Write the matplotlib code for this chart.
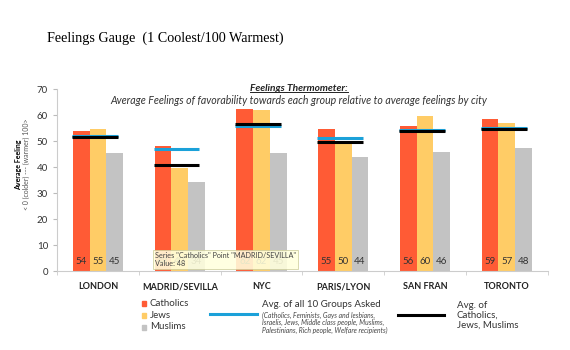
import numpy as np
import matplotlib
matplotlib.use('Agg')
import matplotlib.pyplot as plt
from matplotlib.lines import Line2D
from matplotlib.patches import Rectangle

# data
cities = ['LONDON', 'MADRID/SEVILLA', 'NYC', 'PARIS/LYON', 'SAN FRAN', 'TORONTO']
catholics = [54.0, 48.0, 62.2, 54.8, 55.9, 58.6]
jews = [54.7, 39.6, 62.0, 50.0, 59.8, 57.0]
muslims = [45.2, 34.3, 45.4, 43.8, 45.8, 47.5]
catholics_lbl = [54, 48, 62, 55, 56, 59]
jews_lbl = [55, 40, 62, 50, 60, 57]
muslims_lbl = [45, 34, 45, 44, 46, 48]
avg_all10 = [51.8, 46.8, 55.9, 51.2, 54.1, 54.9]
avg_cjm = [51.5, 40.8, 56.4, 49.7, 54.0, 54.7]
yticks = [0, 10, 20, 30, 40, 50, 60, 70]

c_cath = '#FF5B35'
c_jew = '#FFCC66'
c_mus = '#C3C3C3'
c_blue = '#1BA1D9'
sans = ['Lato', 'DejaVu Sans']

fig = plt.figure(figsize=(5.7, 3.5), dpi=100)
ax = fig.add_axes([0.1, 0.2257, 0.861, 0.52])

x = np.arange(len(cities))
w = 0.205
ax.bar(x - w, catholics, w, color=c_cath, zorder=2)
ax.bar(x, jews, w, color=c_jew, zorder=2)
ax.bar(x + w, muslims, w, color=c_mus, zorder=2)

for i in range(len(cities)):
    ax.plot([x[i] - 0.32, x[i] + 0.24], [avg_all10[i]] * 2, color=c_blue, lw=2.2, zorder=3,
            solid_capstyle='butt')
    ax.plot([x[i] - 0.32, x[i] + 0.24], [avg_cjm[i]] * 2, color='black', lw=2.2, zorder=4,
            solid_capstyle='butt')
    for off, v in zip([-w, 0, w], [catholics_lbl[i], jews_lbl[i], muslims_lbl[i]]):
        ax.text(x[i] + off, 3.5, str(v), ha='center', va='center', fontsize=7,
                color='#333333', family=sans, zorder=5)

ax.set_xlim(-0.5, 5.5)
ax.set_ylim(0, 70)
ax.set_yticks(yticks)
ax.set_xticks(x)
ax.set_xticklabels(cities, fontsize=6.5, fontweight='bold', family=sans, color='#222222')
ax.set_xticks(np.arange(-0.5, 6, 1), minor=True)
ax.tick_params(axis='x', which='major', length=0, pad=8)
ax.tick_params(axis='x', which='minor', length=3, color='#CCCCCC', direction='out')
ax.tick_params(axis='y', length=3, color='#BBBBBB', labelsize=7, labelcolor='#333333')
for lab in ax.get_yticklabels():
    lab.set_family(sans)
for s in ['top', 'right']:
    ax.spines[s].set_visible(False)
ax.spines['left'].set_color('#CCCCCC')
ax.spines['bottom'].set_color('#CCCCCC')

# titles
fig.text(0.082, 0.89, 'Feelings Gauge  (1 Coolest/100 Warmest)', fontsize=10.2,
         family=['Liberation Serif', 'DejaVu Serif'], ha='left', va='center')
t = fig.text(0.525, 0.748, 'Feelings Thermometer:', fontsize=7.3, fontweight='bold',
             fontstyle='italic', family=sans, ha='center', va='center', color='#222222')
fig.text(0.525, 0.714, 'Average Feelings of favorability towards each group relative to average feelings by city',
         fontsize=7.6, fontstyle='italic', family=sans, ha='center', va='center', color='#333333')
fig.canvas.draw()
bb = t.get_window_extent().transformed(fig.transFigure.inverted())
fig.add_artist(Line2D([bb.x0, bb.x1], [bb.y0 + 0.002, bb.y0 + 0.002], color='#222222', lw=0.7))

# y label
fig.text(0.033, 0.53, 'Average Feeling', rotation=90, fontsize=5, fontweight='bold',
         family=sans, ha='center', va='center')
fig.text(0.047, 0.53, '< 0 (colder) --- (warmer) 100>', rotation=90, fontsize=5,
         family=sans, color='#555555', ha='center', va='center')

# tooltip
fig.text(0.272, 0.259, 'Series "Catholics" Point "MADRID/SEVILLA"\nValue: 48', fontsize=5.2,
         family=sans, color='#444444', ha='left', va='center', linespacing=1.1, zorder=10,
         bbox=dict(boxstyle='square,pad=0.3', fc='#FFFFDD', ec='#CCCC99', lw=0.6, alpha=0.88))

# legend
for yy, col, name in zip([0.134, 0.100, 0.066], [c_cath, c_jew, c_mus],
                         ['Catholics', 'Jews', 'Muslims']):
    fig.add_artist(Rectangle((0.249, yy - 0.008), 0.008, 0.013, color=col, transform=fig.transFigure))
    fig.text(0.263, yy, name, fontsize=7, family=sans, color='#333333', va='center')
fig.add_artist(Line2D([0.369, 0.45], [0.103, 0.103], color=c_blue, lw=2.2))
fig.text(0.459, 0.13, 'Avg. of all 10 Groups Asked', fontsize=7, family=sans,
         color='#333333', va='center')
fig.text(0.459, 0.078, '(Catholics, Feminists, Gays and lesbians,\nIsraelis, Jews, Middle class people, Muslims,\n'
         'Palestinians, Rich people, Welfare recipients)', fontsize=4.9, fontstyle='italic',
         family=sans, color='#444444', va='center', linespacing=1.05)
fig.add_artist(Line2D([0.699, 0.779], [0.1, 0.1], color='black', lw=2.2))
fig.text(0.801, 0.1, 'Avg. of\nCatholics,\nJews, Muslims', fontsize=7, family=sans,
         color='#333333', va='center', linespacing=1.1)

fig.savefig('out.png', dpi=100)
